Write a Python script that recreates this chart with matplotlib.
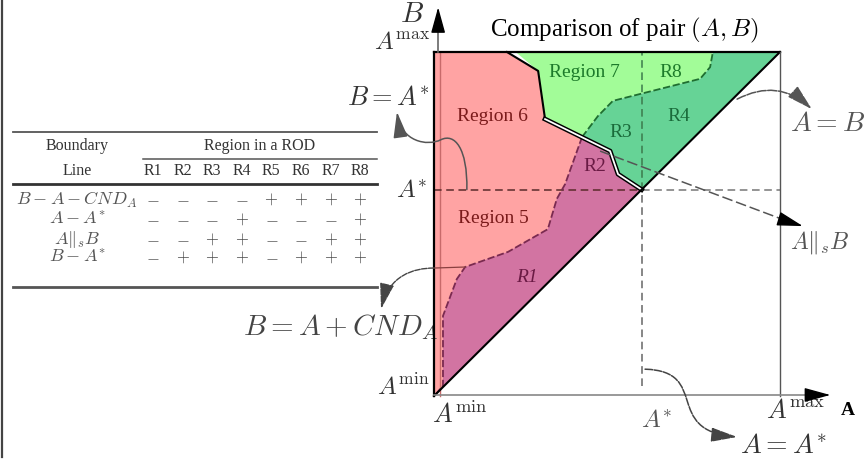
import matplotlib
matplotlib.use("Agg")
import matplotlib.pyplot as plt
from matplotlib.patches import Polygon, FancyArrowPatch
from matplotlib.path import Path

plt.rcParams['font.family'] = 'serif'
plt.rcParams['font.serif'] = ['Liberation Serif', 'DejaVu Serif']
plt.rcParams['mathtext.fontset'] = 'cm'

# Normalised domain: A and B both run from A_min (0) to A_max (1)
A_STAR = 0.6

# stepped boundary between the red and the green regions
stair_a = [0.211, 0.301, 0.321, 0.509, 0.532, 0.600]
stair_b = [1.000, 0.945, 0.805, 0.712, 0.645, 0.600]

# B = A + CND_A boundary (upper edge of R1/R2)
cnd_a = [0.428, 0.379, 0.355, 0.329, 0.214, 0.090, 0.066, 0.026, 0.026, 0.004]
cnd_b = [0.753, 0.616, 0.573, 0.485, 0.419, 0.375, 0.340, 0.233, 0.030, 0.004]

# A ||_s B boundary (between R3/R4 and Region 7/R8)
par_a = [0.428, 0.474, 0.517, 0.769, 0.798, 0.806]
par_b = [0.753, 0.814, 0.858, 0.922, 0.956, 1.000]

# sign table
table_rows = [r'$B-A-CND_A$', r'$A-A^{*}$', r'$A\|_{s}B$', r'$B-A^{*}$']
table_cols = ['R1', 'R2', 'R3', 'R4', 'R5', 'R6', 'R7', 'R8']
table_signs = [
    ['-', '-', '-', '-', '+', '+', '+', '+'],
    ['-', '-', '-', '+', '-', '-', '-', '+'],
    ['-', '-', '+', '+', '-', '-', '+', '+'],
    ['-', '+', '+', '+', '-', '+', '+', '+'],
]

region_labels = [
    ('Region 7', 0.436, 0.942, '#1c7a2a', 'normal'),
    ('R8', 0.685, 0.942, '#1c7a2a', 'normal'),
    ('Region 6', 0.168, 0.814, '#7a1a1a', 'normal'),
    ('R3', 0.540, 0.770, '#1a6a3a', 'normal'),
    ('R4', 0.708, 0.814, '#1a6a3a', 'normal'),
    ('R2', 0.465, 0.669, '#6a1a44', 'normal'),
    ('Region 5', 0.171, 0.520, '#7a1a1a', 'normal'),
    ('R1', 0.269, 0.346, '#6a1a44', 'italic'),
]

PINK = '#ffa3a3'
PURPLE = '#d274a2'
DGREEN = '#66d396'
LGREEN = '#a2fc98'

fig = plt.figure(figsize=(8.64, 4.60), dpi=100)
ax = fig.add_axes([0, 0, 1, 1])
ax.set_xlim(-1.2543, 1.2428)
ax.set_ylim(-0.1831, 1.1541)
ax.axis('off')

stair = list(zip(stair_a, stair_b))
cnd = list(zip(cnd_a, cnd_b))
par = list(zip(par_a, par_b))

pink = [(0, 0), (0, 1)] + stair
purple = cnd + [(A_STAR, A_STAR)] + stair[::-1][1:3]
dgreen = par + [(1, 1), (A_STAR, A_STAR)] + stair[::-1][1:3]
lgreen = [(0.236, 1.0)] + par[::-1] + [stair[2], stair[1]]

ax.add_patch(Polygon(pink, closed=True, fc=PINK, ec='none', zorder=1))
ax.add_patch(Polygon(lgreen, closed=True, fc=LGREEN, ec='none', zorder=1))
ax.add_patch(Polygon(dgreen, closed=True, fc=DGREEN, ec='none', zorder=2))
ax.add_patch(Polygon(purple, closed=True, fc=PURPLE, ec='none', zorder=2))

# B axis shows through the red fill
ax.plot([0.017, 0.017], [0.0, 1.0], color='#c86a6a', lw=1, zorder=3)

# dashed guides at A*
ax.plot([0, A_STAR], [A_STAR, A_STAR], ls=(0, (5, 3)), color='#5a2a2a', lw=1.1, zorder=3)
ax.plot([A_STAR, 1], [A_STAR, A_STAR], ls=(0, (5, 3)), color='#777777', lw=1.1, zorder=3)
ax.plot([A_STAR, A_STAR], [A_STAR, 1], ls=(0, (5, 3)), color='#3b7a4c', lw=1.1, zorder=3)
ax.plot([A_STAR, A_STAR], [0.03, A_STAR], ls=(0, (5, 3)), color='#666666', lw=1.1, zorder=3)

# region boundaries
ax.plot(cnd_a, cnd_b, ls=(0, (4, 1.5)), color='#7a2a50', lw=1.3, zorder=4)
ax.plot(par_a, par_b, ls=(0, (4, 1.5)), color='#1f6e30', lw=1.3, zorder=4)
ax.plot(stair_a[:3], stair_b[:3], color='black', lw=1.5, zorder=4)
ax.plot(stair_a[2:], stair_b[2:], color='black', lw=3.4, zorder=4)
ax.plot(stair_a[2:], stair_b[2:], color='white', lw=1.3, zorder=4)

# square frame and diagonal A = B
ax.plot([0, 1], [0, 1], color='black', lw=1.5, zorder=5)
ax.plot([0, 1], [1, 1], color='black', lw=1.6, zorder=5)
ax.plot([0, 0], [0, 1], color='black', lw=1.6, zorder=5)
ax.plot([1, 1], [0, 1], color='#555555', lw=1.0, zorder=5)

# coordinate axes
arrow_kw = dict(arrowstyle='-|>,head_length=0.8,head_width=0.22', mutation_scale=20,
                color='black', shrinkA=0, shrinkB=0)
ax.plot([0.012, 0.012], [1.0, 1.12], color='#666666', lw=1.2, zorder=5)
ax.add_patch(FancyArrowPatch((0.012, 1.08), (0.012, 1.13), zorder=6, **arrow_kw))
ax.plot([0.0, 1.14], [0.003, 0.003], color='#888888', lw=1.2, zorder=5)
ax.add_patch(FancyArrowPatch((1.10, 0.003), (1.145, 0.003), zorder=6, **arrow_kw))

# callout arrows
curve_kw = dict(arrowstyle='-|>,head_length=0.8,head_width=0.22', mutation_scale=20,
                shrinkA=0, shrinkB=0, zorder=6)

# A = B
ax.add_patch(FancyArrowPatch((0.876, 0.863), (1.092, 0.834), connectionstyle='arc3,rad=-0.35',
                             color='#555555', lw=1.1, ls=(0, (6, 1)), **curve_kw))

# A ||_s B
ax.plot([0.48, 1.03], [0.712, 0.505], ls=(0, (7, 2.5)), color='#555555', lw=1.1, zorder=6)
ax.add_patch(FancyArrowPatch((1.02, 0.508), (1.066, 0.494), color='black', **curve_kw))

# A = A*
p = Path([(0.61, 0.078), (0.80, 0.072), (0.66, -0.10), (0.876, -0.119)],
         [Path.MOVETO, Path.CURVE4, Path.CURVE4, Path.CURVE4])
ax.add_patch(FancyArrowPatch(path=p, color='#444444', lw=1.1, ls=(0, (5, 1)), **curve_kw))

# B = A*
p = Path([(0.095, 0.60), (0.097, 0.72), (0.06, 0.765), (0.02, 0.745),
          (-0.02, 0.725), (-0.095, 0.74), (-0.107, 0.826)],
         [Path.MOVETO, Path.CURVE4, Path.CURVE4, Path.CURVE4,
          Path.CURVE4, Path.CURVE4, Path.CURVE4])
ax.add_patch(FancyArrowPatch(path=p, color='#555555', lw=1.1, **curve_kw))

# B = A + CND_A
ax.plot([0.09, 0.0], [0.375, 0.372], color='#8a4040', lw=0.9, zorder=6)
p = Path([(0.0, 0.372), (-0.06, 0.372), (-0.13, 0.35), (-0.153, 0.253)],
         [Path.MOVETO, Path.CURVE4, Path.CURVE4, Path.CURVE4])
ax.add_patch(FancyArrowPatch(path=p, color='#444444', lw=1.0, ls=(0, (4, 1)), **curve_kw))

# region names
for txt, x, y, c, st in region_labels:
    ax.text(x, y, txt, color=c, fontsize=14, style=st, ha='center', va='center', zorder=7)

# axis and line labels
lab = '#333333'
ax.text(0.549, 1.067, r'Comparison of pair $(A, B)$', fontsize=18, ha='center', va='center')
ax.text(-0.03, 1.11, r'$B$', fontsize=21, ha='right', va='center', color=lab)
ax.text(-0.012, 1.030, r'$A^{\mathrm{max}}$', fontsize=18, ha='right', va='center', color=lab)
ax.text(-0.012, 0.869, r'$B = A^{*}$', fontsize=19, ha='right', va='center', color=lab)
ax.text(-0.018, 0.60, r'$A^{*}$', fontsize=18, ha='right', va='center', color=lab)
ax.text(-0.012, 0.028, r'$A^{\mathrm{min}}$', fontsize=18, ha='right', va='center', color=lab)
ax.text(0.012, 0.203, r'$B = A + CND_A$', fontsize=21, ha='right', va='center', color='#444444')
ax.text(-0.005, -0.050, r'$A^{\mathrm{min}}$', fontsize=19, ha='left', va='center', color=lab)
ax.text(0.645, -0.070, r'$A^{*}$', fontsize=18, ha='center', va='center', color='#555555')
ax.text(1.046, -0.040, r'$A^{\mathrm{max}}$', fontsize=19, ha='center', va='center', color=lab)
ax.text(1.197, -0.040, 'A', fontsize=14, weight='bold', ha='center', va='center')
ax.text(1.029, 0.791, r'$A = B$', fontsize=20, ha='left', va='center', color='#555555')
ax.text(1.029, 0.448, r'$A\|_{s}B$', fontsize=17, ha='left', va='center', color='#555555')
ax.text(0.884, -0.145, r'$A = A^{*}$', fontsize=20, ha='left', va='center', color='#333333')

# sign table, laid out in its own pixel-based overlay
tab = fig.add_axes([0, 0, 1, 1])
tab.set_xlim(0, 864)
tab.set_ylim(460, 0)
tab.axis('off')
tab.patch.set_alpha(0)

tab.plot([2, 2], [0, 458], color='#444444', lw=1.6)

rule = '#555555'
col_x = [153 + 29.6 * i for i in range(len(table_cols))]
row_y = [200, 220, 240, 258]
tab.plot([13, 377], [133, 133], color=rule, lw=1.3)
tab.plot([143, 377], [160, 160], color=rule, lw=1.1)
tab.plot([13, 377], [185, 185], color='#333333', lw=2.0)
tab.plot([13, 377], [288, 288], color=rule, lw=2.0)
tab.text(77, 146, 'Boundary', fontsize=11.5, ha='center', va='center', color='#333333')
tab.text(77, 171, 'Line', fontsize=11.5, ha='center', va='center', color='#333333')
tab.text(260, 146, 'Region in a ROD', fontsize=11.5, ha='center', va='center', color='#333333')
for x, c in zip(col_x, table_cols):
    tab.text(x, 171, c, fontsize=11.5, ha='center', va='center', color='#333333')
for y, name, signs in zip(row_y, table_rows, table_signs):
    tab.text(77, y, name, fontsize=13, ha='center', va='center', color='#555555')
    for x, s in zip(col_x, signs):
        tab.text(x, y, r'$+$' if s == '+' else r'$-$', fontsize=12, ha='center', va='center',
                 color='#444444')

fig.savefig('out.png', dpi=100)
